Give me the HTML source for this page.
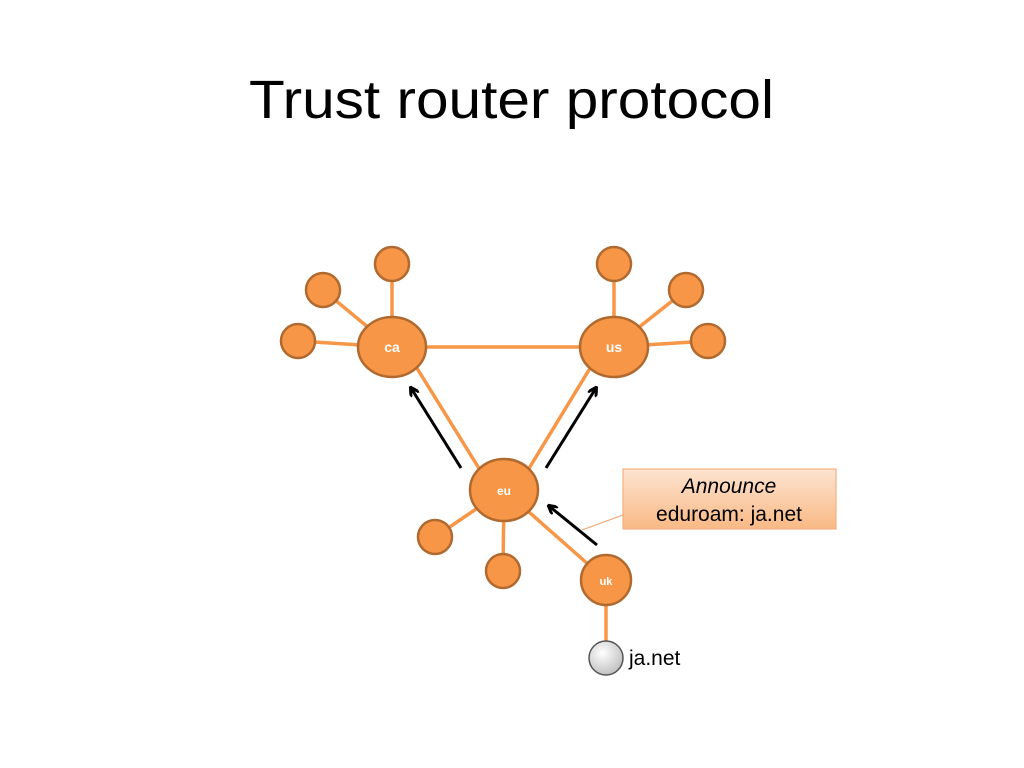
<!DOCTYPE html>
<html><head><meta charset="utf-8"><style>body{margin:0;background:#fff}svg{display:block}</style></head><body>
<svg width="1024" height="768" xmlns="http://www.w3.org/2000/svg" font-family="Liberation Sans, sans-serif">
<defs>
<linearGradient id="g" x1="0" y1="0" x2="0" y2="1"><stop offset="0" stop-color="#fde4d0"/><stop offset="1" stop-color="#f9b985"/></linearGradient>
<radialGradient id="gr" cx="0.4" cy="0.35" r="0.7"><stop offset="0" stop-color="#ffffff"/><stop offset="1" stop-color="#bdbdbd"/></radialGradient>
<marker id="ah" markerWidth="10" markerHeight="10" refX="8" refY="5" orient="auto" markerUnits="userSpaceOnUse"><path d="M0,0 L9,5 L0,10" fill="none" stroke="#000" stroke-width="3"/></marker>
</defs>
<text x="249" y="118" font-size="54" textLength="525" lengthAdjust="spacingAndGlyphs">Trust router protocol</text>
<g stroke="#f79646" stroke-width="3.5">
<line x1="392" y1="347" x2="614" y2="347"/>
<line x1="392" y1="347" x2="392" y2="264"/><line x1="392" y1="347" x2="323" y2="290"/><line x1="392" y1="347" x2="298" y2="341"/>
<line x1="614" y1="347" x2="614" y2="264"/><line x1="614" y1="347" x2="686" y2="290"/><line x1="614" y1="347" x2="708" y2="341"/>
<line x1="415" y1="365" x2="480" y2="470"/><line x1="592" y1="365" x2="528" y2="470"/>
<line x1="504" y1="490" x2="435" y2="537"/><line x1="504" y1="490" x2="503" y2="571"/><line x1="504" y1="490" x2="606" y2="580"/>
<line x1="606" y1="580" x2="606" y2="658"/>
</g>
<line x1="623" y1="515" x2="582" y2="530" stroke="#f4b183" stroke-width="1.2"/>
<g fill="#f79646" stroke="#b06a30" stroke-width="2.5">
<circle cx="392" cy="264" r="17"/><circle cx="323" cy="290" r="17"/><circle cx="298" cy="341" r="17"/>
<circle cx="614" cy="264" r="17"/><circle cx="686" cy="290" r="17"/><circle cx="708" cy="341" r="17"/>
<circle cx="435" cy="537" r="17"/><circle cx="503" cy="571" r="17"/>
<ellipse cx="392" cy="347" rx="34" ry="30"/><ellipse cx="614" cy="347" rx="34" ry="30"/>
<ellipse cx="504" cy="490" rx="34" ry="31"/><circle cx="606" cy="580" r="25"/>
</g>
<circle cx="606" cy="658" r="17" fill="url(#gr)" stroke="#555" stroke-width="1.5"/>
<g fill="#fff" font-weight="bold" text-anchor="middle">
<text x="392" y="352" font-size="14">ca</text><text x="614" y="352" font-size="14">us</text>
<text x="504" y="495" font-size="12">eu</text><text x="606" y="585" font-size="11">uk</text>
</g>
<g stroke="#000" stroke-width="3" marker-end="url(#ah)">
<line x1="461" y1="468" x2="411" y2="388"/><line x1="546" y1="468" x2="596" y2="388"/><line x1="597" y1="545" x2="549" y2="506"/>
</g>
<rect x="623" y="469" width="213" height="60" fill="url(#g)" stroke="#f4b183" stroke-width="1.2"/>
<text x="729" y="493" font-size="21" font-style="italic" text-anchor="middle">Announce</text>
<text x="729" y="521" font-size="21" text-anchor="middle">eduroam: ja.net</text>
<text x="629" y="665" font-size="21">ja.net</text>
</svg>
</body></html>
